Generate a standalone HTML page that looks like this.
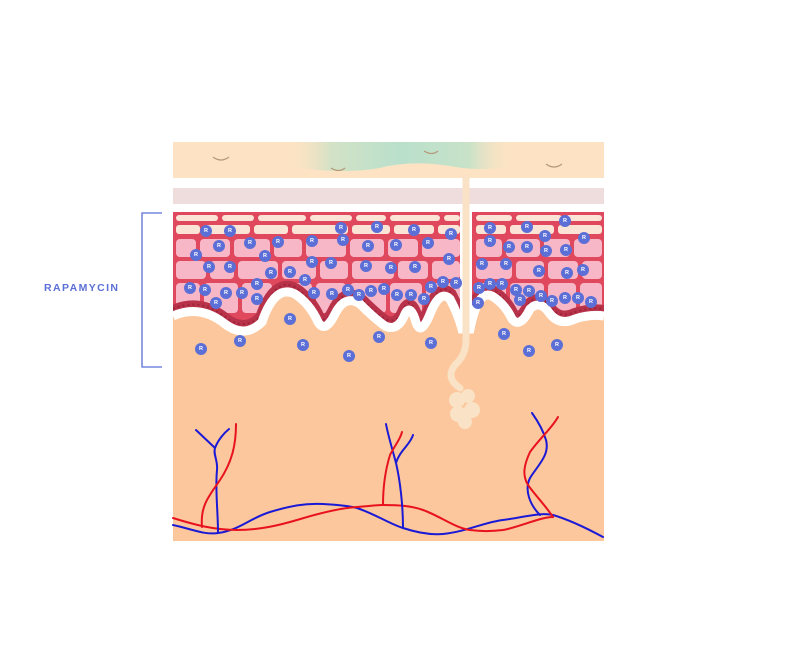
<!DOCTYPE html>
<html><head><meta charset="utf-8"><style>
html,body{margin:0;padding:0;background:#fff;width:788px;height:654px;overflow:hidden}
svg{display:block}
</style></head><body>
<svg width="788" height="654" viewBox="0 0 788 654" xmlns="http://www.w3.org/2000/svg">
<defs>
<linearGradient id="g" x1="0" x2="1" y1="0" y2="0">
<stop offset="0" stop-color="#fde3c4" stop-opacity="0"/>
<stop offset="0.2" stop-color="#d3e2c6"/>
<stop offset="0.5" stop-color="#b9e0cc"/>
<stop offset="0.8" stop-color="#c8e2c8"/>
<stop offset="1" stop-color="#fde3c4" stop-opacity="0"/>
</linearGradient>
<clipPath id="ep"><path d="M173,212 H604 V312 Q590,310 575,315 Q560,322 550,310 Q540,295 530,305 Q520,325 512,315 Q505,300 492,292 Q478,285 470,325 L462,325 Q458,310 450,295 Q440,285 430,310 Q420,335 415,315 Q410,300 405,310 Q398,328 385,322 Q375,315 360,300 Q345,290 335,310 Q325,330 318,318 Q310,300 295,290 Q275,280 262,318 Q245,335 225,320 Q200,300 173,312 Z"/></clipPath>
</defs>
<rect x="173" y="142" width="431" height="36" fill="#fde3c4"/>
<path d="M285,142 H515 V166 Q480,172 450,166 Q410,160 380,168 Q340,175 285,166 Z" fill="url(#g)"/>
<path d="M213,157 q8,6 16,0 M331,168 q8,5 14,0 M424,151 q8,5 14,0 M546,164 q8,6 16,0" stroke="#b59a7a" stroke-width="1.2" fill="none"/>
<rect x="173" y="188" width="431" height="16" fill="#efdcdc"/>
<rect x="173" y="290" width="431" height="251" fill="#fcc79c"/>
<g clip-path="url(#ep)">
<rect x="173" y="212" width="431" height="130" fill="#e0485e"/>
<g fill="#fbe3d6">
<rect x="176" y="215" width="42" height="6" rx="3"/><rect x="222" y="215" width="32" height="6" rx="3"/><rect x="258" y="215" width="48" height="6" rx="3"/><rect x="310" y="215" width="42" height="6" rx="3"/><rect x="356" y="215" width="30" height="6" rx="3"/><rect x="390" y="215" width="50" height="6" rx="3"/><rect x="444" y="215" width="16" height="6" rx="3"/><rect x="476" y="215" width="36" height="6" rx="3"/><rect x="516" y="215" width="46" height="6" rx="3"/><rect x="566" y="215" width="36" height="6" rx="3"/>
<rect x="176" y="225" width="24" height="9" rx="3"/><rect x="204" y="225" width="46" height="9" rx="3"/><rect x="254" y="225" width="34" height="9" rx="3"/><rect x="292" y="225" width="56" height="9" rx="3"/><rect x="352" y="225" width="38" height="9" rx="3"/><rect x="394" y="225" width="40" height="9" rx="3"/><rect x="438" y="225" width="22" height="9" rx="3"/><rect x="476" y="225" width="30" height="9" rx="3"/><rect x="510" y="225" width="44" height="9" rx="3"/><rect x="558" y="225" width="44" height="9" rx="3"/>
</g>
<g fill="#f8b7c6">
<rect x="176" y="239" width="20" height="18" rx="4"/><rect x="200" y="239" width="30" height="18" rx="4"/><rect x="234" y="239" width="36" height="18" rx="4"/><rect x="274" y="239" width="28" height="18" rx="4"/><rect x="306" y="239" width="40" height="18" rx="4"/><rect x="350" y="239" width="34" height="18" rx="4"/><rect x="388" y="239" width="30" height="18" rx="4"/><rect x="422" y="239" width="38" height="18" rx="4"/><rect x="476" y="239" width="26" height="18" rx="4"/><rect x="506" y="239" width="34" height="18" rx="4"/><rect x="544" y="239" width="26" height="18" rx="4"/><rect x="574" y="239" width="28" height="18" rx="4"/>
<rect x="176" y="261" width="30" height="18" rx="4"/><rect x="210" y="261" width="24" height="18" rx="4"/><rect x="238" y="261" width="40" height="18" rx="4"/><rect x="282" y="261" width="34" height="18" rx="4"/><rect x="320" y="261" width="28" height="18" rx="4"/><rect x="352" y="261" width="42" height="18" rx="4"/><rect x="398" y="261" width="30" height="18" rx="4"/><rect x="432" y="261" width="28" height="18" rx="4"/><rect x="476" y="261" width="36" height="18" rx="4"/><rect x="516" y="261" width="28" height="18" rx="4"/><rect x="548" y="261" width="30" height="18" rx="4"/><rect x="582" y="261" width="20" height="18" rx="4"/>
<rect x="176" y="283" width="24" height="30" rx="4"/><rect x="204" y="283" width="34" height="30" rx="4"/><rect x="242" y="283" width="30" height="30" rx="4"/><rect x="276" y="283" width="36" height="30" rx="4"/><rect x="316" y="283" width="30" height="30" rx="4"/><rect x="350" y="283" width="36" height="30" rx="4"/><rect x="390" y="283" width="32" height="30" rx="4"/><rect x="426" y="283" width="34" height="30" rx="4"/><rect x="476" y="283" width="30" height="30" rx="4"/><rect x="510" y="283" width="34" height="30" rx="4"/><rect x="548" y="283" width="28" height="30" rx="4"/><rect x="580" y="283" width="22" height="30" rx="4"/>
</g>
<path d="M173,312 Q200,300 225,320 Q245,335 262,318 Q275,280 295,290 Q310,300 318,318 Q325,330 335,310 Q345,290 360,300 Q375,315 385,322 Q398,328 405,310 Q410,300 415,315 Q420,335 430,310 Q440,285 450,295 Q458,310 462,325 L470,325 Q478,285 492,292 Q505,300 512,315 Q520,325 530,305 Q540,295 550,310 Q560,322 575,315 Q590,310 604,312" fill="none" stroke="#b8324a" stroke-width="14"/>
<path d="M173,312 Q200,300 225,320 Q245,335 262,318 Q275,280 295,290 Q310,300 318,318 Q325,330 335,310 Q345,290 360,300 Q375,315 385,322 Q398,328 405,310 Q410,300 415,315 Q420,335 430,310 Q440,285 450,295 Q458,310 462,325 L470,325 Q478,285 492,292 Q505,300 512,315 Q520,325 530,305 Q540,295 550,310 Q560,322 575,315 Q590,310 604,312" fill="none" stroke="#9c2339" stroke-width="2" stroke-dasharray="2 3" transform="translate(0,-3)"/>
</g>
<path d="M173,312 Q200,300 225,320 Q245,335 262,318 Q275,280 295,290 Q310,300 318,318 Q325,330 335,310 Q345,290 360,300 Q375,315 385,322 Q398,328 405,310 Q410,300 415,315 Q420,335 430,310 Q440,285 450,295 Q458,310 462,325 L470,325 Q478,285 492,292 Q505,300 512,315 Q520,325 530,305 Q540,295 550,310 Q560,322 575,315 Q590,310 604,312" fill="none" stroke="#fff" stroke-width="9" transform="translate(0,4)"/>
<rect x="459" y="204" width="14" height="8" fill="#fff"/>
<rect x="460" y="212" width="12" height="120" fill="#fff"/>
<path d="M466,178 L466,340 Q466,355 455,365 Q445,378 460,388" fill="none" stroke="#f9e2c6" stroke-width="7" stroke-linecap="round"/>
<g fill="#f9e2c6">
<circle cx="457" cy="400" r="8"/><circle cx="468" cy="396" r="7"/><circle cx="472" cy="410" r="8"/><circle cx="458" cy="414" r="8"/><circle cx="465" cy="422" r="7"/>
</g>
<g fill="none" stroke-width="2" stroke-linecap="round">
<path d="M173,525 C195,530 205,535 218,533 C240,530 250,518 270,512 C290,506 305,503 323,504 C340,505 350,506 357,508 C375,514 390,524 403,528 C415,532 430,535 443,534 C465,532 485,522 503,520 C520,518 540,512 553,515 C570,520 590,530 603,537" stroke="#1a1ad6"/>
<path d="M173,518 C195,525 215,530 237,530 C260,530 280,525 297,520 C320,513 340,508 357,507 C370,506 378,505 383,505 C400,505 412,506 423,510 C440,516 455,528 470,530 C485,532 495,531 503,530 C520,527 540,517 553,517" stroke="#e8121e"/>
<path d="M218,533 C218,510 215,490 217,470 C218,460 213,455 215,448 M215,448 L196,430 M215,448 C218,440 224,433 229,429" stroke="#1a1ad6"/>
<path d="M202,527 C200,505 210,495 220,480 C232,462 236,445 236,424" stroke="#e8121e"/>
<path d="M403,528 C403,505 400,480 396,463 C392,448 388,435 386,424 M396,463 C400,450 410,445 413,435" stroke="#1a1ad6"/>
<path d="M383,505 C383,485 386,468 390,455 C395,445 400,440 402,432" stroke="#e8121e"/>
<path d="M540,515 C530,505 524,490 530,478 C538,465 550,455 546,440 C543,430 537,420 532,413" stroke="#1a1ad6"/>
<path d="M553,517 C545,505 535,495 528,485 C522,475 524,465 530,452 C540,438 552,428 558,417" stroke="#e8121e"/>
</g>
<g fill="#5b6fd6">
<circle cx="206" cy="231" r="6"/><circle cx="230" cy="231" r="6"/><circle cx="250" cy="243" r="6"/><circle cx="278" cy="242" r="6"/><circle cx="219" cy="246" r="6"/><circle cx="312" cy="241" r="6"/><circle cx="343" cy="240" r="6"/><circle cx="341" cy="228" r="6"/><circle cx="377" cy="227" r="6"/><circle cx="368" cy="246" r="6"/><circle cx="396" cy="245" r="6"/><circle cx="414" cy="230" r="6"/><circle cx="428" cy="243" r="6"/><circle cx="451" cy="234" r="6"/><circle cx="490" cy="228" r="6"/><circle cx="490" cy="241" r="6"/><circle cx="509" cy="247" r="6"/><circle cx="527" cy="227" r="6"/><circle cx="545" cy="236" r="6"/><circle cx="527" cy="247" r="6"/><circle cx="546" cy="251" r="6"/><circle cx="565" cy="221" r="6"/><circle cx="566" cy="250" r="6"/><circle cx="584" cy="238" r="6"/><circle cx="196" cy="255" r="6"/><circle cx="209" cy="267" r="6"/><circle cx="230" cy="267" r="6"/><circle cx="265" cy="256" r="6"/><circle cx="290" cy="272" r="6"/><circle cx="271" cy="273" r="6"/><circle cx="312" cy="262" r="6"/><circle cx="331" cy="263" r="6"/><circle cx="366" cy="266" r="6"/><circle cx="391" cy="268" r="6"/><circle cx="415" cy="267" r="6"/><circle cx="449" cy="259" r="6"/><circle cx="482" cy="264" r="6"/><circle cx="506" cy="264" r="6"/><circle cx="539" cy="271" r="6"/><circle cx="567" cy="273" r="6"/><circle cx="583" cy="270" r="6"/><circle cx="190" cy="288" r="6"/><circle cx="205" cy="290" r="6"/><circle cx="216" cy="303" r="6"/><circle cx="226" cy="293" r="6"/><circle cx="242" cy="293" r="6"/><circle cx="257" cy="284" r="6"/><circle cx="257" cy="299" r="6"/><circle cx="305" cy="280" r="6"/><circle cx="314" cy="293" r="6"/><circle cx="332" cy="294" r="6"/><circle cx="348" cy="290" r="6"/><circle cx="359" cy="295" r="6"/><circle cx="371" cy="291" r="6"/><circle cx="384" cy="289" r="6"/><circle cx="397" cy="295" r="6"/><circle cx="411" cy="295" r="6"/><circle cx="424" cy="299" r="6"/><circle cx="431" cy="287" r="6"/><circle cx="443" cy="282" r="6"/><circle cx="456" cy="283" r="6"/><circle cx="479" cy="288" r="6"/><circle cx="478" cy="303" r="6"/><circle cx="490" cy="284" r="6"/><circle cx="502" cy="284" r="6"/><circle cx="516" cy="290" r="6"/><circle cx="529" cy="291" r="6"/><circle cx="541" cy="296" r="6"/><circle cx="552" cy="301" r="6"/><circle cx="565" cy="298" r="6"/><circle cx="578" cy="298" r="6"/><circle cx="591" cy="302" r="6"/><circle cx="520" cy="300" r="6"/><circle cx="290" cy="319" r="6"/><circle cx="240" cy="341" r="6"/><circle cx="201" cy="349" r="6"/><circle cx="303" cy="345" r="6"/><circle cx="349" cy="356" r="6"/><circle cx="379" cy="337" r="6"/><circle cx="431" cy="343" r="6"/><circle cx="504" cy="334" r="6"/><circle cx="529" cy="351" r="6"/><circle cx="557" cy="345" r="6"/>
</g>
<g font-family="Liberation Sans, sans-serif" font-size="5.5" font-weight="bold" fill="#fff" text-anchor="middle" dominant-baseline="central">
<text x="206" y="231">R</text><text x="230" y="231">R</text><text x="250" y="243">R</text><text x="278" y="242">R</text><text x="219" y="246">R</text><text x="312" y="241">R</text><text x="343" y="240">R</text><text x="341" y="228">R</text><text x="377" y="227">R</text><text x="368" y="246">R</text><text x="396" y="245">R</text><text x="414" y="230">R</text><text x="428" y="243">R</text><text x="451" y="234">R</text><text x="490" y="228">R</text><text x="490" y="241">R</text><text x="509" y="247">R</text><text x="527" y="227">R</text><text x="545" y="236">R</text><text x="527" y="247">R</text><text x="546" y="251">R</text><text x="565" y="221">R</text><text x="566" y="250">R</text><text x="584" y="238">R</text><text x="196" y="255">R</text><text x="209" y="267">R</text><text x="230" y="267">R</text><text x="265" y="256">R</text><text x="290" y="272">R</text><text x="271" y="273">R</text><text x="312" y="262">R</text><text x="331" y="263">R</text><text x="366" y="266">R</text><text x="391" y="268">R</text><text x="415" y="267">R</text><text x="449" y="259">R</text><text x="482" y="264">R</text><text x="506" y="264">R</text><text x="539" y="271">R</text><text x="567" y="273">R</text><text x="583" y="270">R</text><text x="190" y="288">R</text><text x="205" y="290">R</text><text x="216" y="303">R</text><text x="226" y="293">R</text><text x="242" y="293">R</text><text x="257" y="284">R</text><text x="257" y="299">R</text><text x="305" y="280">R</text><text x="314" y="293">R</text><text x="332" y="294">R</text><text x="348" y="290">R</text><text x="359" y="295">R</text><text x="371" y="291">R</text><text x="384" y="289">R</text><text x="397" y="295">R</text><text x="411" y="295">R</text><text x="424" y="299">R</text><text x="431" y="287">R</text><text x="443" y="282">R</text><text x="456" y="283">R</text><text x="479" y="288">R</text><text x="478" y="303">R</text><text x="490" y="284">R</text><text x="502" y="284">R</text><text x="516" y="290">R</text><text x="529" y="291">R</text><text x="541" y="296">R</text><text x="552" y="301">R</text><text x="565" y="298">R</text><text x="578" y="298">R</text><text x="591" y="302">R</text><text x="520" y="300">R</text><text x="290" y="319">R</text><text x="240" y="341">R</text><text x="201" y="349">R</text><text x="303" y="345">R</text><text x="349" y="356">R</text><text x="379" y="337">R</text><text x="431" y="343">R</text><text x="504" y="334">R</text><text x="529" y="351">R</text><text x="557" y="345">R</text>
</g>
<path d="M162,213 H142 V367 H162" fill="none" stroke="#5b6fd6" stroke-width="1.3"/>
<text x="44" y="291" font-family="Liberation Sans, sans-serif" font-size="10.5" font-weight="bold" fill="#5b6fd6" letter-spacing="1.4">RAPAMYCIN</text>
</svg>
</body></html>
